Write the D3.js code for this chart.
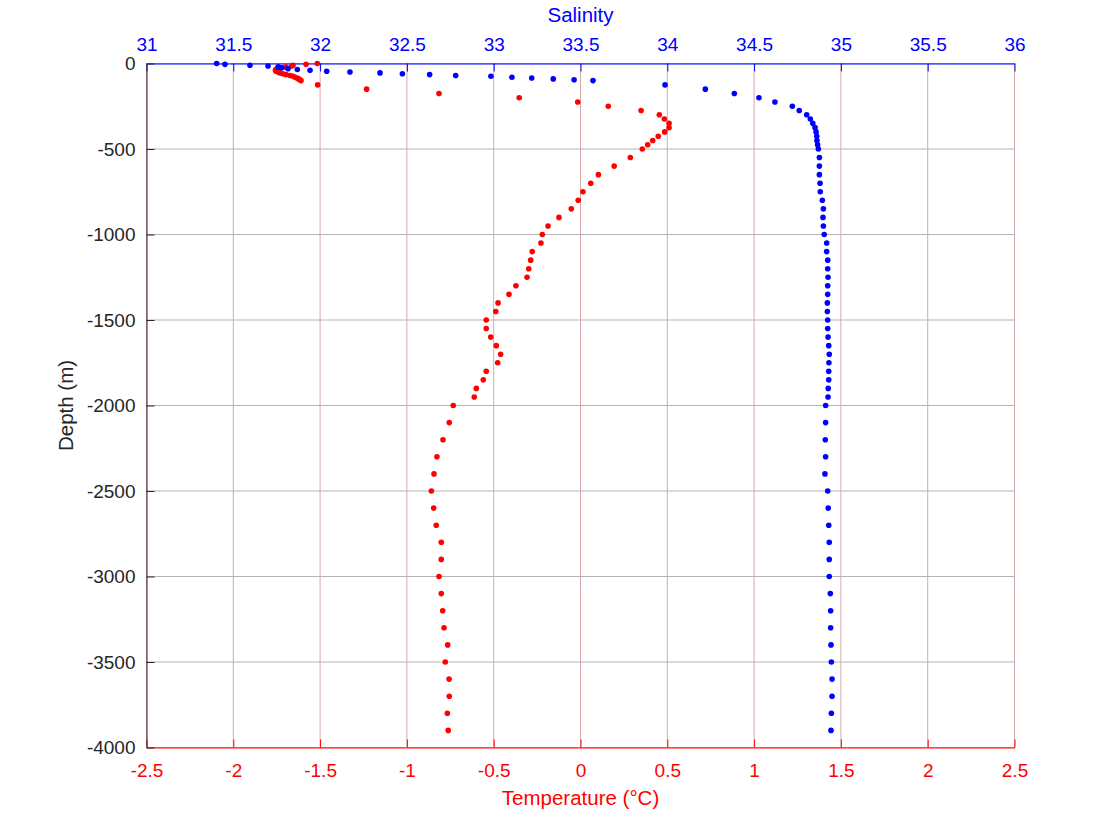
<!DOCTYPE html>
<html>
<head>
<meta charset="utf-8">
<script src="https://cdn.jsdelivr.net/npm/d3@7"></script>
<style>
  html, body { margin: 0; padding: 0; background: #fff; }
  svg { display: block; font-family: "Liberation Sans", Arial, Helvetica, sans-serif; }
</style>
</head>
<body>
<svg id="chart" width="1120" height="840"></svg>
<script>
// Depth levels (m, positive down) shared by both profiles
const depths = [
  0,5,10,15,20,25,30,35,40,45,50,55,60,65,70,75,80,85,90,95,100,
  125,150,175,200,225,250,275,300,325,350,375,400,425,450,475,500,
  550,600,650,700,750,800,850,900,950,1000,1050,1100,1150,1200,1250,1300,1350,1400,1450,
  1500,1550,1600,1650,1700,1750,1800,1850,1900,1950,2000,
  2100,2200,2300,2400,2500,2600,2700,2800,2900,3000,3100,3200,3300,3400,3500,3600,3700,3800,3900
];

// Salinity values (PSU)
const salinity = [
  31.404,31.452,31.596,31.700,31.759,31.779,31.815,31.869,31.942,32.038,32.172,32.345,32.474,32.631,32.781,32.984,33.105,33.219,33.343,33.463,33.572,
  33.987,34.219,34.386,34.528,34.620,34.720,34.760,34.803,34.824,34.838,34.851,34.857,34.861,34.862,34.866,34.870,
  34.876,34.876,34.876,34.880,34.881,34.893,34.899,34.897,34.899,34.904,34.918,34.918,34.924,34.924,34.926,34.924,34.924,34.922,34.922,
  34.924,34.924,34.926,34.930,34.933,34.931,34.930,34.930,34.927,34.926,34.912,
  34.912,34.910,34.912,34.908,34.924,34.927,34.930,34.933,34.933,34.933,34.939,34.941,34.941,34.943,34.945,34.949,34.949,34.945,34.943
];

// Temperature values (°C)
const temperature = [
  -1.516,-1.581,-1.656,-1.664,-1.698,-1.731,-1.748,-1.754,-1.757,-1.754,-1.742,-1.731,-1.714,-1.696,-1.673,-1.656,-1.645,-1.633,-1.624,-1.616,-1.610,
  -1.514,-1.232,-0.815,-0.353,-0.016,0.160,0.349,0.454,0.483,0.510,0.510,0.485,0.448,0.416,0.387,0.356,
  0.287,0.194,0.103,0.059,0.014,-0.013,-0.053,-0.124,-0.187,-0.220,-0.228,-0.278,-0.287,-0.298,-0.308,-0.372,-0.412,-0.475,-0.488,
  -0.543,-0.543,-0.517,-0.485,-0.460,-0.477,-0.543,-0.560,-0.600,-0.612,-0.733,
  -0.756,-0.792,-0.827,-0.844,-0.859,-0.846,-0.831,-0.802,-0.802,-0.815,-0.802,-0.794,-0.786,-0.765,-0.779,-0.757,-0.756,-0.767,-0.762
];

const tempTicks = [-2.5,-2,-1.5,-1,-0.5,0,0.5,1,1.5,2,2.5];
const salTicks = [31,31.5,32,32.5,33,33.5,34,34.5,35,35.5,36];
const depthTicks = [0,-500,-1000,-1500,-2000,-2500,-3000,-3500,-4000];

const margin = {left: 146.5, right: 1014.5, top: 63.5, bottom: 747.5};
const svg = d3.select("#chart");

const xT = d3.scaleLinear().domain([-2.5, 2.5]).range([margin.left, margin.right]);
const xS = d3.scaleLinear().domain([31, 36]).range([margin.left, margin.right]);
const y = d3.scaleLinear().domain([-4000, 0]).range([margin.bottom, margin.top]);

const fmt = d => String(d);

// grid lines
const grid = svg.append("g");
grid.selectAll("line.v").data(tempTicks).join("line")
  .attr("x1", d => xT(d)).attr("x2", d => xT(d))
  .attr("y1", margin.top).attr("y2", margin.bottom)
  .attr("stroke", "#d8a8a8").attr("stroke-width", 1);
grid.selectAll("line.h").data(depthTicks).join("line")
  .attr("x1", margin.left).attr("x2", margin.right)
  .attr("y1", d => y(d)).attr("y2", d => y(d))
  .attr("stroke", "#b4b4b4").attr("stroke-width", 1);

// bottom axis (temperature)
const bottomAx = svg.append("g").attr("transform", `translate(0,${margin.bottom})`)
  .call(d3.axisBottom(xT).tickValues(tempTicks).tickSizeInner(-8).tickSizeOuter(0).tickPadding(16).tickFormat(fmt));
bottomAx.select(".domain").attr("stroke", "#ff0000");
bottomAx.selectAll(".tick line").attr("stroke", "#ff0000");
bottomAx.selectAll("text").attr("fill", "#ff0000").attr("font-size", 19).attr("dy", "0.71em");

// top axis (salinity)
const topAx = svg.append("g").attr("transform", `translate(0,${margin.top})`)
  .call(d3.axisTop(xS).tickValues(salTicks).tickSizeInner(-8).tickSizeOuter(0).tickPadding(13).tickFormat(fmt));
topAx.select(".domain").attr("stroke", "#0000ff");
topAx.selectAll(".tick line").attr("stroke", "#0000ff");
topAx.selectAll("text").attr("fill", "#0000ff").attr("font-size", 19);

// left axis (depth)
const leftAx = svg.append("g").attr("transform", `translate(${margin.left},0)`)
  .call(d3.axisLeft(y).tickValues(depthTicks).tickSizeInner(-8).tickSizeOuter(0).tickPadding(11).tickFormat(fmt));
leftAx.select(".domain").attr("stroke", "#262626");
leftAx.selectAll(".tick line").attr("stroke", "#262626");
leftAx.selectAll("text").attr("fill", "#262626").attr("font-size", 19);

// axis titles
svg.append("text").attr("x", (margin.left + margin.right) / 2).attr("y", 805)
  .attr("text-anchor", "middle").attr("fill", "#ff0000").attr("font-size", 20.5)
  .text("Temperature (°C)");
svg.append("text").attr("x", (margin.left + margin.right) / 2).attr("y", 22)
  .attr("text-anchor", "middle").attr("fill", "#0000ff").attr("font-size", 20.5)
  .text("Salinity");
svg.append("text").attr("transform", `translate(73,${(margin.top + margin.bottom) / 2}) rotate(-90)`)
  .attr("text-anchor", "middle").attr("fill", "#262626").attr("font-size", 20.5)
  .text("Depth (m)");

// data points
const tData = depths.map((d, i) => ({d: -d, v: temperature[i]}));
const sData = depths.map((d, i) => ({d: -d, v: salinity[i]}));

svg.append("g").selectAll("circle").data(tData).join("circle")
  .attr("cx", p => xT(p.v)).attr("cy", p => y(p.d)).attr("r", 2.8).attr("fill", "#ff0000");
svg.append("g").selectAll("circle").data(sData).join("circle")
  .attr("cx", p => xS(p.v)).attr("cy", p => y(p.d)).attr("r", 2.8).attr("fill", "#0000ff");
</script>
</body>
</html>
